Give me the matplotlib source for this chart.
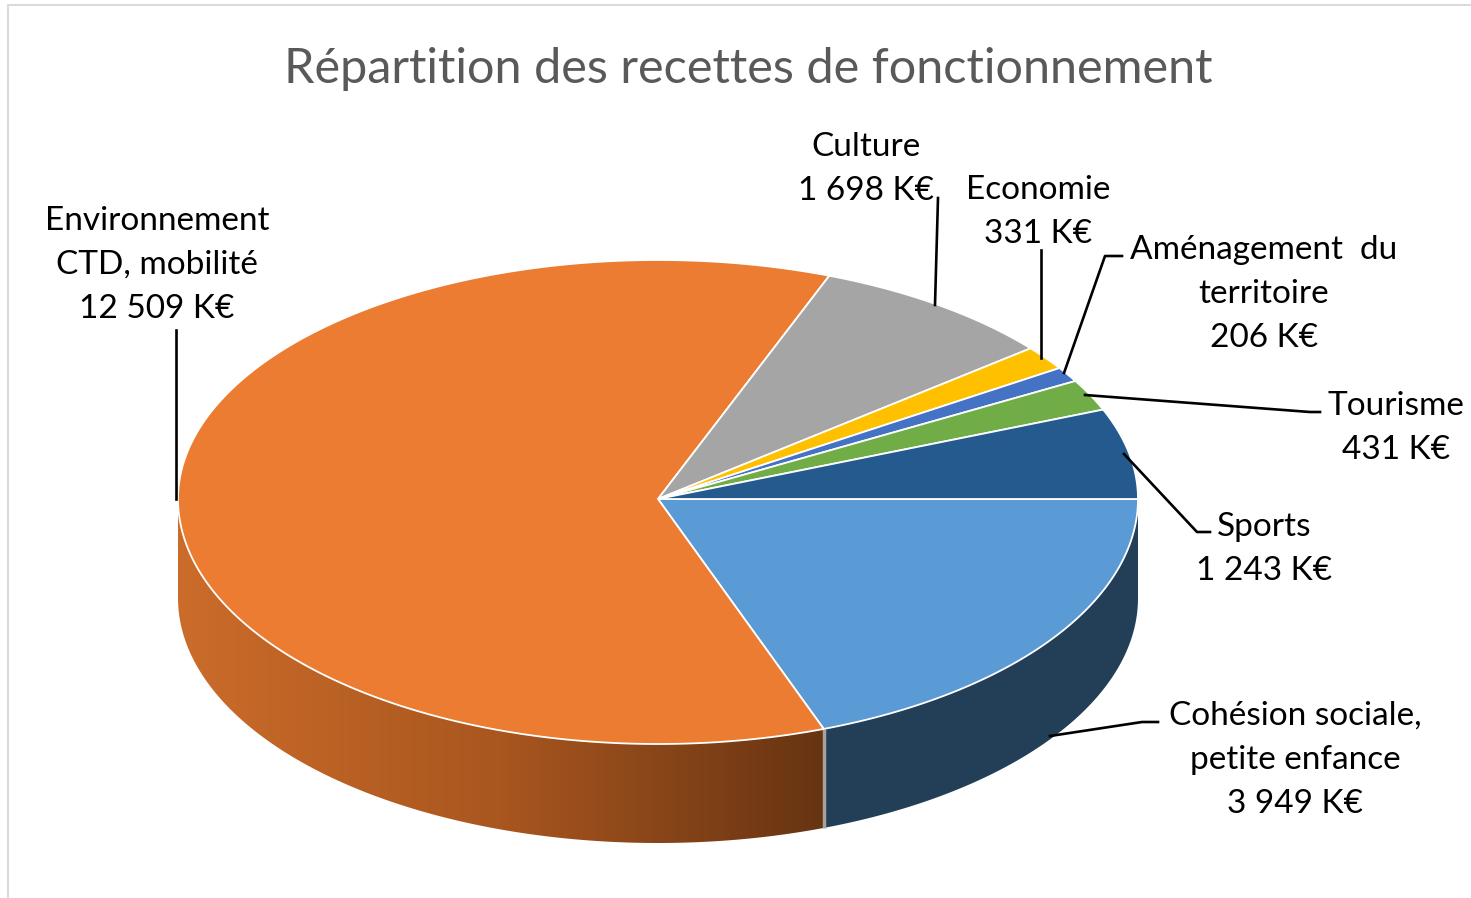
import numpy as np
import matplotlib
matplotlib.use('Agg')
import matplotlib.pyplot as plt
from matplotlib.colors import LinearSegmentedColormap
from matplotlib.patches import Polygon

plt.rcParams['font.family'] = ['Lato', 'DejaVu Sans']

# clockwise from 3 o'clock
categories = ['Cohésion sociale,\npetite enfance', 'Environnement\nCTD, mobilité', 'Culture',
              'Economie', 'Aménagement  du\nterritoire', 'Tourisme', 'Sports']
values = [3949, 12509, 1698, 331, 206, 431, 1243]
colors = ['#5b9bd5', '#eb7c31', '#a5a5a5', '#ffc000', '#4472c4', '#70ad47', '#255a8e']

# pixel layout of the picture
W, H = 1471, 898
cx, cy, rx = 658, 499, 480
ry_back, ry_front = 239, 245  # perspective: front half of the disc looks taller
depth = 99

label_pos = [(1295, 760), (157, 265), (866, 169), (1038, 212), (1264, 294), (1396, 428), (1264, 549)]
leaders = [
    [(1050, 736), (1142, 722), (1158, 722)],
    [(176, 499), (176, 330)],
    [(935, 305), (938, 198)],
    [(1041, 358), (1041, 250)],
    [(1064, 373), (1105, 256), (1122, 256)],
    [(1085, 395), (1310, 412), (1320, 412)],
    [(1124, 454), (1197, 532), (1210, 532)],
]


def fmt(v):
    return f'{v:,}'.replace(',', ' ') + ' K€'


def rim(a0, a1, n=300):
    # points on the disc rim, angles in degrees clockwise from east on screen
    t = np.radians(np.linspace(a0, a1, n))
    s = np.sin(t)
    return cx + rx * np.cos(t), cy + s * np.where(s > 0, ry_front, ry_back)


fig = plt.figure(figsize=(W / 100, H / 100), dpi=100)
ax = fig.add_axes([0, 0, 1, 1])

edges = np.cumsum([0] + values) / sum(values) * 360

# side wall, only the front half shows
x, y = rim(edges[0], edges[1])
ax.fill(np.r_[x, x[::-1]], np.r_[y, y[::-1] + depth], color='#233e57', lw=0, zorder=1)

x, y = rim(edges[1], 180)
wall = Polygon(np.c_[np.r_[x, x[::-1]], np.r_[y, y[::-1] + depth]], closed=True, transform=ax.transData)
cmap = LinearSegmentedColormap.from_list('wall', ['#cb6c2a', '#a9561f', '#673412'])
img = ax.imshow(np.linspace(0, 1, 400)[None, :], cmap=cmap, aspect='auto', zorder=1,
                extent=(x.min(), x.max(), y.max() + depth, y.min()))
img.set_clip_path(wall)

# seam between the two walls
sx, sy = rim(edges[1], edges[1], 1)
ax.plot([sx[0], sx[0]], [sy[0], sy[0] + depth], color='#a8a29c', lw=2.5, zorder=2, solid_capstyle='butt')

# top face
for a0, a1, c in zip(edges[:-1], edges[1:], colors):
    x, y = rim(a0, a1)
    ax.fill(np.r_[cx, x], np.r_[cy, y], facecolor=c, edgecolor='white', lw=1.3, zorder=3)

ax.set_xlim(0, W)
ax.set_ylim(H, 0)
ax.axis('off')

# frame
ax.plot([8.5, 8.5, W], [H, 4.5, 4.5], color='#d9d9d9', lw=1.4)

for pts in leaders:
    px, py = zip(*pts)
    ax.plot(px, py, color='black', lw=1.9, solid_joinstyle='round', zorder=4)

for name, v, (lx, ly) in zip(categories, values, label_pos):
    ax.text(lx, ly, f'{name}\n{fmt(v)}', ha='center', va='center', fontsize=24,
            linespacing=1.6, color='black')

ax.text(748, 69, 'Répartition des recettes de fonctionnement', ha='center', va='center',
        fontsize=35, color='#595959')

fig.savefig('out.png', dpi=100, facecolor='white')
